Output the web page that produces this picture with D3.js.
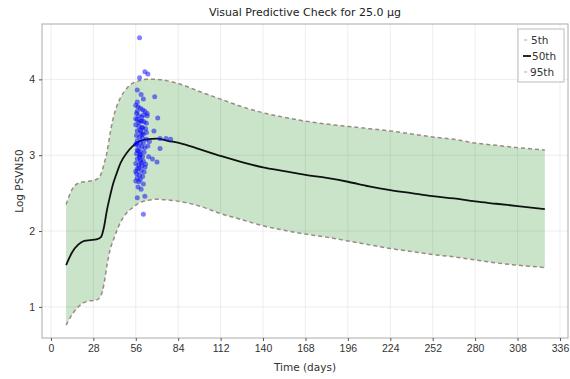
<!DOCTYPE html>
<html lang="en">
<head>
  <meta charset="UTF-8">
  <title>Visual Predictive Check</title>
  <script src="https://d3js.org/d3.v7.min.js"></script>
  <style>
    body { margin: 0; background: #fff; font-family: "DejaVu Sans", sans-serif; }
    .grid line { stroke: #e8e8e8; stroke-width: 0.8px; }
    .axis text { font-size: 10.5px; fill: #333; }
    .axis line { stroke: #555; }
    .axis path { display: none; }
  </style>
</head>
<body>
  <div id="chart"></div>
  <script>
    // days for the prediction band
    const days = [10, 14, 18, 22, 26, 30, 33, 35, 37, 39, 41, 43, 46, 50, 54, 58, 63, 70, 77, 85,
      98, 112, 126, 140, 154, 168, 182, 196, 210, 224, 238, 252, 266, 280, 294, 308, 326];
    const p5 = [0.76, 0.90, 1.00, 1.06, 1.08, 1.09, 1.15, 1.30, 1.55, 1.75, 1.87, 1.98, 2.12, 2.24, 2.31, 2.37, 2.40, 2.42, 2.41, 2.39,
      2.33, 2.23, 2.15, 2.07, 2.01, 1.96, 1.92, 1.87, 1.82, 1.77, 1.73, 1.69, 1.66, 1.62, 1.58, 1.55, 1.52];
    const p50 = [1.55, 1.72, 1.82, 1.87, 1.88, 1.89, 1.92, 2.05, 2.28, 2.46, 2.62, 2.74, 2.90, 3.03, 3.12, 3.18, 3.21, 3.22, 3.19, 3.16,
      3.08, 2.99, 2.91, 2.84, 2.79, 2.74, 2.70, 2.65, 2.59, 2.54, 2.50, 2.46, 2.43, 2.39, 2.36, 2.33, 2.29];
    const p95 = [2.35, 2.55, 2.63, 2.65, 2.66, 2.68, 2.75, 2.88, 3.04, 3.28, 3.48, 3.62, 3.76, 3.88, 3.95, 3.98, 4.00, 4.00, 3.98, 3.94,
      3.84, 3.74, 3.64, 3.56, 3.50, 3.45, 3.41, 3.38, 3.35, 3.32, 3.28, 3.24, 3.21, 3.16, 3.13, 3.10, 3.07];

    // observed points
    const obsDay = [58.5, 62, 64, 58.5, 57, 59.5, 61, 68.5, 56, 57.5, 59, 60.5, 62, 63.5, 56.5, 58, 60, 70.5,
      57, 59, 61.5, 63, 56, 58, 60, 62.5, 68, 57, 59.5, 61, 56.5, 58.5, 60.5, 63, 72, 76, 79,
      57, 59, 61, 56, 58, 60, 62, 72, 57, 59, 61.5, 56.5, 58.5, 60.5, 67, 57, 59, 61, 70,
      56, 58, 60, 62, 57, 59.5, 61.5, 56.5, 58.5, 60.5, 57, 59, 56, 58, 61, 57.5, 59.5, 57, 62, 61,
      56, 57, 58, 59, 60, 61, 56.5, 57.5, 58.5, 59.5, 60.5, 56, 58, 60, 57, 59,
      63, 64, 62.5, 63.5, 65, 64.5];
    const obsVal = [4.55, 4.10, 4.07, 4.02, 3.86, 3.80, 3.74, 3.77, 3.66, 3.64, 3.62, 3.60, 3.58, 3.55, 3.55, 3.52, 3.50, 3.49,
      3.47, 3.45, 3.44, 3.42, 3.40, 3.38, 3.37, 3.35, 3.32, 3.32, 3.30, 3.28, 3.26, 3.24, 3.22, 3.21, 3.22, 3.22, 3.21,
      3.19, 3.17, 3.16, 3.14, 3.12, 3.11, 3.10, 3.09, 3.07, 3.05, 3.04, 3.02, 3.00, 2.98, 2.95, 2.95, 2.93, 2.92, 2.91,
      2.89, 2.87, 2.86, 2.84, 2.82, 2.80, 2.78, 2.76, 2.74, 2.72, 2.70, 2.68, 2.66, 2.65, 2.62, 2.58, 2.55, 2.44, 2.46, 2.22,
      3.48, 3.58, 3.43, 3.33, 3.27, 3.53, 3.15, 3.06, 2.97, 2.90, 3.36, 2.79, 2.83, 3.45, 3.70, 3.01,
      3.30, 3.12, 2.88, 3.52, 3.18, 2.98];

    const xTicks = [0, 28, 56, 84, 112, 140, 168, 196, 224, 252, 280, 308, 336];
    const yTicks = [1, 2, 3, 4];
    const legendLabels = ["5th", "50th", "95th"];

    const width = 570, height = 379;
    const margin = { left: 42, top: 24, right: 2, bottom: 41 };

    const svg = d3.select("#chart").append("svg")
      .attr("width", width).attr("height", height);

    const x = d3.scaleLinear().domain([-5.9, 341.3]).range([margin.left, width - margin.right]);
    const y = d3.scaleLinear().domain([0.59, 4.73]).range([height - margin.bottom, margin.top]);

    // grid
    const grid = svg.append("g").attr("class", "grid");
    grid.selectAll(".gx").data(xTicks).enter().append("line")
      .attr("x1", d => x(d)).attr("x2", d => x(d))
      .attr("y1", y.range()[1]).attr("y2", y.range()[0]);
    grid.selectAll(".gy").data(yTicks).enter().append("line")
      .attr("y1", d => y(d)).attr("y2", d => y(d))
      .attr("x1", x.range()[0]).attr("x2", x.range()[1]);

    const band = days.map((d, i) => ({ d, lo: p5[i], mid: p50[i], hi: p95[i] }));
    const curve = d3.curveMonotoneX;

    svg.append("path")
      .datum(band)
      .attr("fill", "rgb(0,128,0)")
      .attr("fill-opacity", 0.21)
      .attr("d", d3.area().curve(curve).x(d => x(d.d)).y0(d => y(d.lo)).y1(d => y(d.hi)));

    const dashColor = "#9c8a82";
    ["lo", "hi"].forEach(k => {
      svg.append("path")
        .datum(band)
        .attr("fill", "none")
        .attr("stroke", dashColor)
        .attr("stroke-width", 1.5)
        .attr("stroke-dasharray", "4,3")
        .attr("d", d3.line().curve(curve).x(d => x(d.d)).y(d => y(d[k])));
    });

    svg.append("path")
      .datum(band)
      .attr("fill", "none")
      .attr("stroke", "#111")
      .attr("stroke-width", 1.8)
      .attr("d", d3.line().curve(curve).x(d => x(d.d)).y(d => y(d.mid)));

    // observations
    svg.append("g").selectAll("circle")
      .data(obsDay.map((d, i) => [d, obsVal[i]]))
      .enter().append("circle")
      .attr("cx", d => x(d[0]))
      .attr("cy", d => y(d[1]))
      .attr("r", 2.5)
      .attr("fill", "blue")
      .attr("fill-opacity", 0.5);

    // frame
    svg.append("rect")
      .attr("x", x.range()[0]).attr("y", y.range()[1])
      .attr("width", x.range()[1] - x.range()[0])
      .attr("height", y.range()[0] - y.range()[1])
      .attr("fill", "none").attr("stroke", "#aaa").attr("stroke-width", 1);

    // axes
    svg.append("g").attr("class", "axis")
      .attr("transform", `translate(0,${y.range()[0]})`)
      .call(d3.axisBottom(x).tickValues(xTicks).tickSize(3).tickPadding(4));
    svg.append("g").attr("class", "axis")
      .attr("transform", `translate(${x.range()[0]},0)`)
      .call(d3.axisLeft(y).tickValues(yTicks).tickFormat(d3.format("d")).tickSize(3).tickPadding(4));

    // labels
    svg.append("text")
      .attr("x", (x.range()[0] + x.range()[1]) / 2).attr("y", 16)
      .attr("text-anchor", "middle").attr("font-size", 11).attr("fill", "#222")
      .text("Visual Predictive Check for 25.0 μg");
    svg.append("text")
      .attr("x", (x.range()[0] + x.range()[1]) / 2).attr("y", 371)
      .attr("text-anchor", "middle").attr("font-size", 10.5).attr("fill", "#333")
      .text("Time (days)");
    svg.append("text")
      .attr("transform", `translate(23,${(y.range()[0] + y.range()[1]) / 2}) rotate(-90)`)
      .attr("text-anchor", "middle").attr("font-size", 10.5).attr("fill", "#333")
      .text("Log PSVN50");

    // legend
    const lg = svg.append("g").attr("transform", "translate(518,29)");
    lg.append("rect").attr("width", 46).attr("height", 53)
      .attr("fill", "#fff").attr("fill-opacity", 0.85)
      .attr("stroke", "#bbb").attr("stroke-width", 1);
    legendLabels.forEach((t, i) => {
      const yy = 11 + i * 16;
      lg.append("line")
        .attr("x1", i === 1 ? 5 : 6).attr("x2", i === 1 ? 13 : 9)
        .attr("y1", yy).attr("y2", yy)
        .attr("stroke", i === 1 ? "#111" : "#bbb")
        .attr("stroke-width", i === 1 ? 1.8 : 1.2);
      lg.append("text")
        .attr("x", i === 1 ? 14 : (i === 0 ? 13 : 12)).attr("y", yy + 3.5)
        .attr("font-size", 10.5).attr("fill", "#333")
        .text(t);
    });
  </script>
</body>
</html>
